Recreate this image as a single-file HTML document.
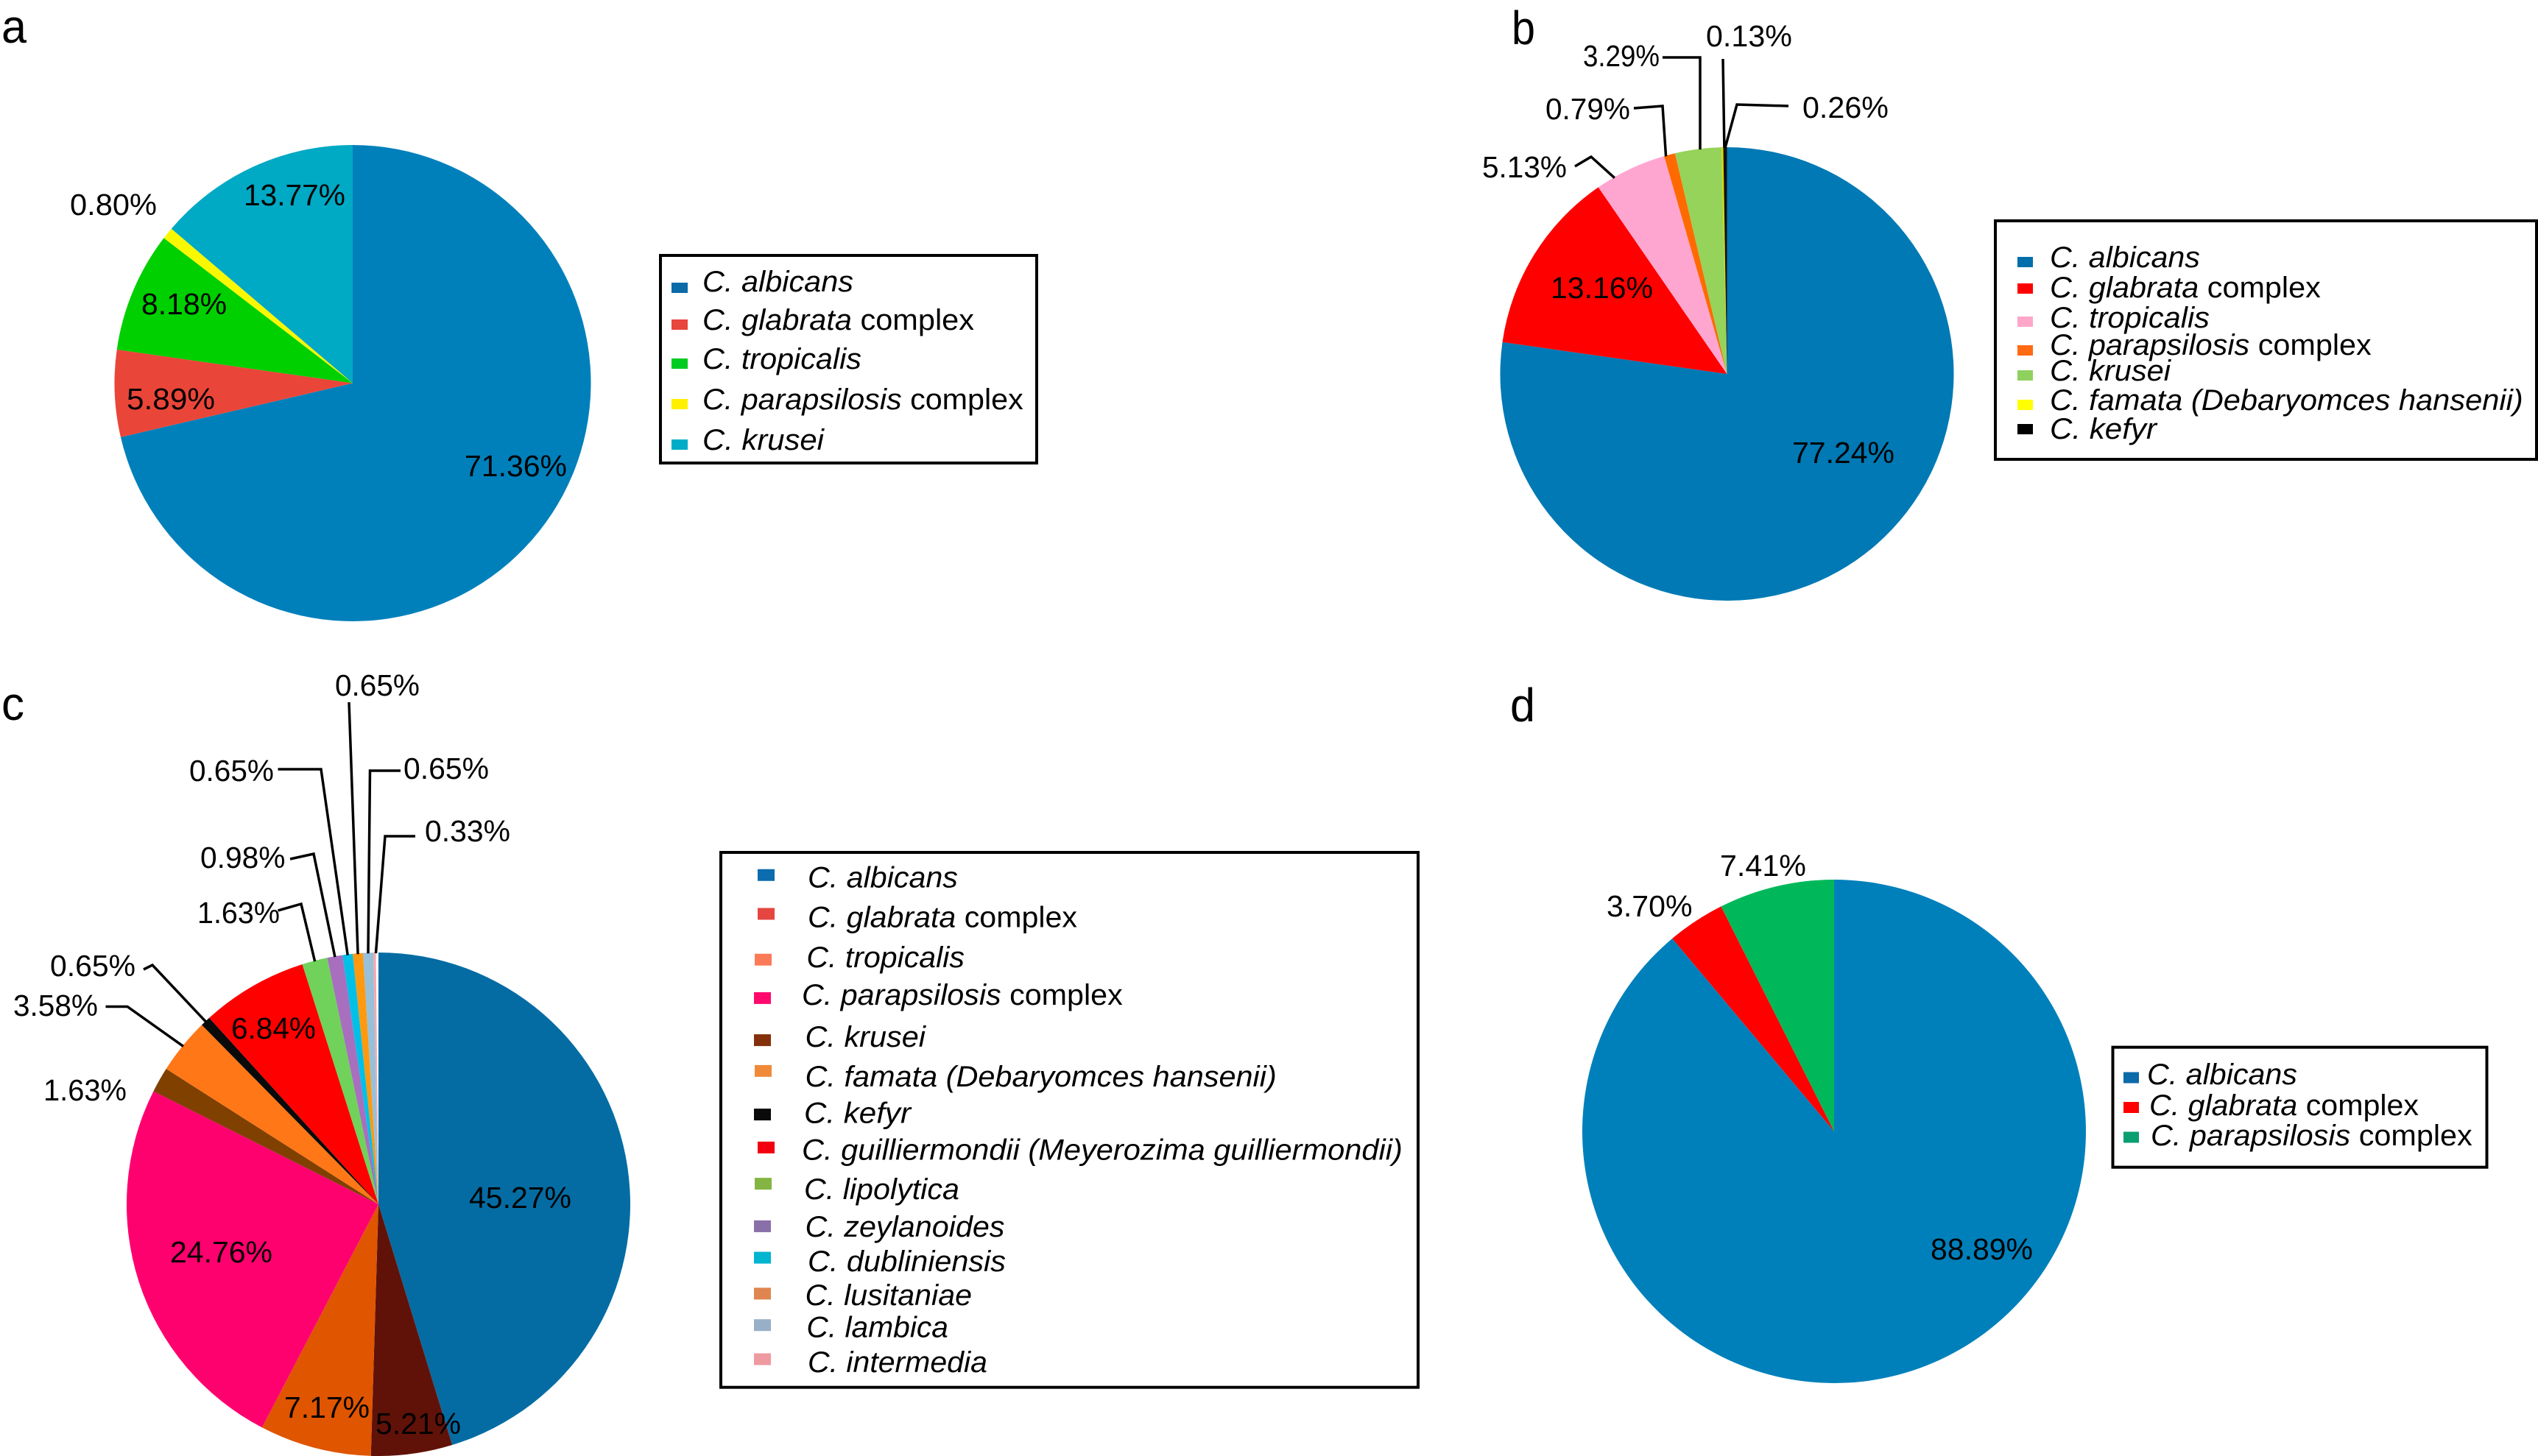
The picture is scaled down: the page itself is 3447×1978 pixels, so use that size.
<!DOCTYPE html>
<html lang="en">
<head>
<meta charset="utf-8">
<title>Candida species distribution pie charts</title>
<style>
  html, body { margin: 0; padding: 0; background: #ffffff; }
  svg { display: block; }
  text { font-family: "Liberation Sans", Arial, sans-serif; fill: #000; }
</style>
</head>
<body>
<svg id="figure" xmlns="http://www.w3.org/2000/svg" width="3447" height="1978" viewBox="0 0 3447 1978"></svg>
<script>
/* ---------- chart data ---------- */
const panelACategories = ['C. albicans', 'C. glabrata complex', 'C. tropicalis', 'C. parapsilosis complex', 'C. krusei'];
const panelAValues = [71.36, 5.89, 8.18, 0.80, 13.77];

const panelBCategories = ['C. albicans', 'C. glabrata complex', 'C. tropicalis', 'C. parapsilosis complex', 'C. krusei', 'C. famata (Debaryomces hansenii)', 'C. kefyr'];
const panelBValues = [77.24, 13.16, 5.13, 0.79, 3.29, 0.13, 0.26];

const panelCCategories = ['C. albicans', 'C. glabrata complex', 'C. tropicalis', 'C. parapsilosis complex', 'C. krusei', 'C. famata (Debaryomces hansenii)', 'C. kefyr', 'C. guilliermondii (Meyerozima guilliermondii)', 'C. lipolytica', 'C. zeylanoides', 'C. dubliniensis', 'C. lusitaniae', 'C. lambica', 'C. intermedia'];
const panelCValues = [45.27, 5.21, 7.17, 24.76, 1.63, 3.58, 0.65, 6.84, 1.63, 0.98, 0.65, 0.65, 0.65, 0.33];

const panelDCategories = ['C. albicans', 'C. glabrata complex', 'C. parapsilosis complex'];
const panelDValues = [88.89, 3.70, 7.41];

/* ---------- colours ---------- */
const panelASliceColors = ['#0080bb', '#ea4539', '#00cf00', '#f8f800', '#00a9c4'];
const panelASwatchColors = ['#0b6aa8', '#e8453c', '#00cc22', '#fff000', '#00adc8'];
const panelBSliceColors = ['#0079b4', '#ff0000', '#ffa6d0', '#ff6a00', '#95d35a', '#d8d800', '#111111'];
const panelBSwatchColors = ['#006eaa', '#ff0000', '#ffa6c9', '#ff6a13', '#8fd15f', '#ffff00', '#000000'];
const panelCSliceColors = ['#046ca3', '#601209', '#e05500', '#ff006f', '#7f4000', '#ff7717', '#0a0a0a', '#ff0000', '#70d25a', '#a76fbe', '#00c0e8', '#ff9a10', '#98c0d8', '#f4a8b0'];
const panelCSwatchColors = ['#0b6cae', '#e64640', '#fb7a58', '#ff0a6c', '#84300b', '#f08a38', '#0a0a0a', '#f2000f', '#84b544', '#8a70a8', '#00b5d0', '#df8550', '#98afc8', '#ee9aa0'];
const panelDSliceColors = ['#0080bb', '#ff0000', '#00b85a'];
const panelDSwatchColors = ['#0b6aa8', '#ff0000', '#0a9e70'];

/* ---------- layout (not data) ---------- */
const layoutA = {
  letter: 'a', letterBox: [2, 36, 58], center: [479, 520.5], radius: 323.5,
  labelBoxes: [[631, 770, 647], [172, 292, 556], [192, 308, 427], [95, 213, 292], [331, 469, 279]],
  leaders: [],
  legendBox: [897, 347, 511, 282],
  swatchBoxes: [[912, 384, 22, 14], [912, 434, 22, 14], [912, 487, 22, 14], [912, 542, 22, 14], [912, 597, 22, 14]],
  legendTextBoxes: [[954, 1159, 396], [954, 1323, 448], [954, 1170, 501], [954, 1390, 556], [954, 1119, 611]]
};
const layoutB = {
  letter: 'b', letterBox: [2053, 2085, 60], center: [2345.5, 508], radius: 308,
  labelBoxes: [[2434, 2573, 629], [2106, 2245, 405], [2013, 2128, 241], [2099, 2214, 162], [2150, 2254, 90], [2317, 2434, 63], [2448, 2565, 160]],
  leaders: [
    { slice: 2, nudgeDeg: -4.5, route: [[2139, 226], [2161, 213]] },
    { slice: 3, nudgeDeg: -1, route: [[2219, 147], [2258, 144]] },
    { slice: 4, nudgeDeg: 0.5, route: [[2258, 78], [2309, 78]] },
    { slice: 5, nudgeDeg: 0.5, route: [[2340, 80]] },
    { slice: 6, nudgeDeg: 0, route: [[2429, 144], [2359, 142]] }
  ],
  legendBox: [2710, 300, 735, 324],
  swatchBoxes: [[2740, 349, 21, 14], [2740, 385, 21, 14], [2740, 430, 21, 14], [2740, 469, 21, 14], [2740, 503, 21, 14], [2740, 543, 21, 14], [2740, 576, 21, 14]],
  legendTextBoxes: [[2784, 2988, 363], [2784, 3152, 404], [2784, 3001, 445], [2784, 3221, 482], [2784, 2948, 517], [2784, 3427, 557], [2784, 2929, 596]]
};
const layoutC = {
  letter: 'c', letterBox: [2, 33, 978], center: [514, 1636], radius: 342,
  labelBoxes: [[637, 776, 1641], [510, 626, 1948], [386, 502, 1926], [231, 370, 1715], [59, 172, 1495], [18, 133, 1380], [68, 184, 1326], [314, 429, 1411], [268, 380, 1254], [272, 387.5, 1179], [257, 372, 1061], [455, 570, 945], [548, 664, 1058], [577, 693, 1143]],
  leaders: [
    { slice: 5, nudgeDeg: 0, route: [[143.5, 1367.5], [173, 1367.5]] },
    { slice: 6, nudgeDeg: 0, route: [[195, 1317], [207, 1311]] },
    { slice: 8, nudgeDeg: 0, route: [[377.5, 1237], [409, 1228]] },
    { slice: 9, nudgeDeg: 0, route: [[394, 1167], [426, 1160]] },
    { slice: 10, nudgeDeg: 0, route: [[377.5, 1045], [436, 1045]] },
    { slice: 11, nudgeDeg: 0, route: [[474, 954]] },
    { slice: 12, nudgeDeg: 0, route: [[544, 1047], [502.5, 1047]] },
    { slice: 13, nudgeDeg: 0, route: [[564, 1136], [523, 1136]] }
  ],
  legendBox: [979, 1158, 947, 726.7],
  swatchBoxes: [[1029, 1180.75, 23, 16], [1029, 1233.5, 23, 16], [1025, 1295.7, 23, 16], [1024, 1347.9, 23, 16], [1024, 1405.1, 23, 16], [1025, 1446.9, 23, 16], [1024, 1506.1, 23, 16], [1029, 1550.9, 23, 16], [1025, 1600.1, 23, 16], [1024, 1657.9, 23, 16], [1024, 1700.6, 23, 16], [1024, 1749.4, 23, 16], [1024, 1792.2, 23, 16], [1024, 1838.5, 23, 16]],
  legendTextBoxes: [[1097, 1301, 1205.6], [1097, 1463, 1259.4], [1095.4, 1310, 1314], [1089, 1525, 1364.8], [1093.5, 1257, 1422], [1093.5, 1734, 1475.8], [1092, 1237, 1525.5], [1089, 1905, 1575.3], [1092, 1303, 1629], [1093.5, 1364.5, 1679.8], [1097, 1366, 1727], [1093.5, 1320, 1772.8], [1095.4, 1288, 1816.6], [1097, 1341, 1863.8]]
};
const layoutD = {
  letter: 'd', letterBox: [2051, 2085, 980], center: [2491, 1537], radius: 342,
  labelBoxes: [[2622, 2761, 1711], [2182, 2298.5, 1245], [2336, 2453, 1190]],
  leaders: [],
  legendBox: [2869.5, 1422.7, 508, 163],
  swatchBoxes: [[2884, 1456.5, 21, 15], [2884, 1497, 21, 15], [2884, 1537.5, 21, 15]],
  legendTextBoxes: [[2916, 3120, 1473], [2919, 3285, 1515], [2921, 3358, 1556]]
};

/* ---------- rendering ---------- */
const NS = 'http://www.w3.org/2000/svg';
const figure = document.getElementById('figure');

function slug(s) {
  return s.toLowerCase().replace(/[^a-z0-9]+/g, '-').replace(/^-|-$/g, '');
}
function make(tag, parent, attrs) {
  const el = document.createElementNS(NS, tag);
  for (const k in attrs) el.setAttribute(k, attrs[k]);
  parent.appendChild(el);
  return el;
}
/* horizontally fit a text element between x0 and x1 on the given baseline */
function fitText(el, box) {
  const len = el.getComputedTextLength();
  const sx = len > 0 ? (box[1] - box[0]) / len : 1;
  el.setAttribute('transform', 'translate(' + box[0] + ' ' + box[2] + ') scale(' + sx + ' 1)');
}
/* angle axis: cumulative share -> radians clockwise from 12 o'clock */
function shareToAngle(share) { return share * 2 * Math.PI; }
function polar(center, radius, angle) {
  return [center[0] + radius * Math.sin(angle), center[1] - radius * Math.cos(angle)];
}

function drawPanel(panelId, categories, values, sliceColors, swatchColors, layout) {
  const group = make('g', figure, {});
  
  

  const letter = make('text', group, { 'font-size': 64 });
  letter.textContent = layout.letter;
  
  
  fitText(letter, layout.letterBox);

  const total = values.reduce(function (a, b) { return a + b; }, 0);
  let running = 0;
  const midAngles = [];
  values.forEach(function (v, i) {
    const a0 = shareToAngle(running / total);
    running += v;
    const a1 = shareToAngle(running / total);
    midAngles.push((a0 + a1) / 2);
    const p0 = polar(layout.center, layout.radius, a0);
    const p1 = polar(layout.center, layout.radius, a1);
    const large = a1 - a0 > Math.PI ? 1 : 0;
    const d = 'M' + layout.center[0] + ' ' + layout.center[1] +
      ' L' + p0[0] + ' ' + p0[1] +
      ' A' + layout.radius + ' ' + layout.radius + ' 0 ' + large + ' 1 ' + p1[0] + ' ' + p1[1] + ' Z';
    const slice = make('path', group, { d: d, fill: sliceColors[i] });
    
    
  });

  layout.leaders.forEach(function (leader) {
    const endAngle = midAngles[leader.slice] + leader.nudgeDeg * Math.PI / 180;
    const end = polar(layout.center, layout.radius - 1, endAngle);
    const pts = leader.route.concat([end]).map(function (p) { return p[0] + ',' + p[1]; }).join(' ');
    const line = make('polyline', group, { points: pts, fill: 'none', stroke: '#000', 'stroke-width': 3.5, 'stroke-linejoin': 'miter' });
    
    
  });

  values.forEach(function (v, i) {
    const label = make('text', group, { 'font-size': 41 });
    label.textContent = v.toFixed(2) + '%';
    
    
    fitText(label, layout.labelBoxes[i]);
  });

  const legend = make('g', group, {});
  
  

  const box = make('rect', legend, {
    x: layout.legendBox[0], y: layout.legendBox[1], width: layout.legendBox[2], height: layout.legendBox[3],
    fill: '#fff', stroke: '#000', 'stroke-width': 4
  });
  
  

  categories.forEach(function (name, i) {
    const s = layout.swatchBoxes[i];
    const swatch = make('rect', legend, { x: s[0], y: s[1], width: s[2], height: s[3], fill: swatchColors[i] });
    
    

    const entry = make('text', legend, { 'font-size': 40 });
    
    
    const suffix = ' complex';
    const hasSuffix = name.endsWith(suffix);
    const italic = make('tspan', entry, { 'font-style': 'italic' });
    italic.textContent = hasSuffix ? name.slice(0, -suffix.length) : name;
    if (hasSuffix) {
      const plain = make('tspan', entry, {});
      plain.textContent = suffix;
      plain.setAttribute('xml:space', 'preserve');
      entry.style.whiteSpace = 'pre';
    }
    fitText(entry, layout.legendTextBoxes[i]);
  });
  return group;
}

drawPanel('a', panelACategories, panelAValues, panelASliceColors, panelASwatchColors, layoutA);
drawPanel('b', panelBCategories, panelBValues, panelBSliceColors, panelBSwatchColors, layoutB);
const panelCGroup = drawPanel('c', panelCCategories, panelCValues, panelCSliceColors, panelCSwatchColors, layoutC);

/* thin white seam at 12 o'clock in panel c, inserted beneath the labels */
const seam = document.createElementNS(NS, 'polygon');
seam.setAttribute('points', (layoutC.center[0] - 3.5) + ',' + (layoutC.center[1] - layoutC.radius) + ' ' + layoutC.center[0] + ',' + (layoutC.center[1] - layoutC.radius) + ' ' + layoutC.center[0] + ',' + layoutC.center[1]);
seam.setAttribute('fill', '#ffffff');


panelCGroup.insertBefore(seam, panelCGroup.querySelector('polyline'));

drawPanel('d', panelDCategories, panelDValues, panelDSliceColors, panelDSwatchColors, layoutD);
</script>
</body>
</html>
